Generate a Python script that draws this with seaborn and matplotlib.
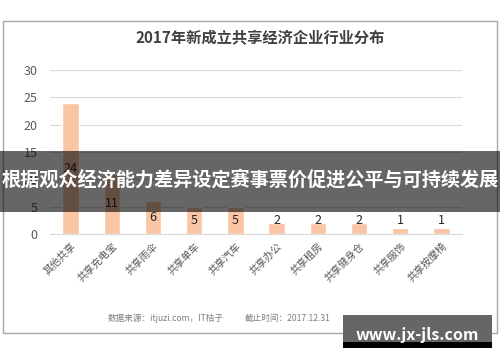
import seaborn as sns
import matplotlib.pyplot as plt
from matplotlib.patches import Rectangle

categories = ['其他共享', '共享充电宝', '共享雨伞', '共享单车', '共享汽车',
              '共享办公', '共享租房', '共享健身仓', '共享服饰', '共享按摩椅']
counts = [24, 11, 6, 5, 5, 2, 2, 2, 1, 1]
yticks = [0, 5, 10, 15, 20, 25, 30]

sns.set_style('white')
plt.rcParams['font.family'] = ['Noto Sans CJK SC', 'DejaVu Sans']

fig = plt.figure(figsize=(5, 3.62), dpi=100)
fig.patch.set_facecolor('white')

# outer chart frame
fig.patches.append(Rectangle((0.006, 0.080), 0.988, 0.862, transform=fig.transFigure,
                             fill=False, edgecolor='#a6a6a6', lw=1, zorder=0))

ax = fig.add_axes([0.10, 0.354, 0.824, 0.453])
sns.barplot(x=categories, y=counts, color='#f9c5a4', width=0.4, saturation=1, ax=ax)
ax.set_ylim(0, 30)
ax.set_yticks(yticks)
ax.yaxis.grid(True, color='#d9d9d9', lw=0.8)
ax.set_axisbelow(True)
for s in ['top', 'right', 'left']:
    ax.spines[s].set_visible(False)
ax.spines['bottom'].set_color('#d9d9d9')
ax.tick_params(axis='y', length=0, labelsize=9, labelcolor='#595959', pad=9)
ax.tick_params(axis='x', length=0, labelsize=7.3, labelcolor='#595959', pad=5)
for lab in ax.get_xticklabels():
    lab.set_rotation(45)
    lab.set_ha('right')
    lab.set_rotation_mode('anchor')

# value labels sit at the middle of each bar (kept clear of the axis for short bars)
for i, v in enumerate(counts):
    ax.text(i, max(v / 2, 2.4), str(v), ha='center', va='center',
            fontsize=9, color='#262626')

fig.text(0.52, 0.895, '2017年新成立共享经济企业行业分布', ha='center', va='center',
         fontsize=11, fontweight='bold', color='#404040')
fig.text(0.215, 0.122, '数据来源：itjuzi.com，IT桔子', ha='left', va='center',
         fontsize=6.2, color='#7f7f7f')
fig.text(0.49, 0.122, '截止时间：2017.12.31', ha='left', va='center',
         fontsize=6.2, color='#7f7f7f')

# overlay banner
fig.patches.append(Rectangle((0.0, 0.414), 1.0, 0.169, transform=fig.transFigure,
                             facecolor='black', alpha=0.6, edgecolor='none', zorder=5))
fig.text(0.5, 0.505, '根据观众经济能力差异设定赛事票价促进公平与可持续发展',
         ha='center', va='center', fontsize=13.8, fontweight='bold', color='white', zorder=6)

# watermark
fig.patches.append(Rectangle((0.686, 0.039), 0.298, 0.091, transform=fig.transFigure,
                             facecolor='#666666', edgecolor='none', zorder=5))
fig.patches.append(Rectangle((0.686, 0.039), 0.298, 0.016, transform=fig.transFigure,
                             facecolor='black', edgecolor='none', zorder=5))
fig.text(0.835, 0.074, 'www.jx-jls.com', ha='center', va='center',
         fontsize=11.5, fontweight='bold', color='white', zorder=6)

fig.savefig('out.png', dpi=100)
